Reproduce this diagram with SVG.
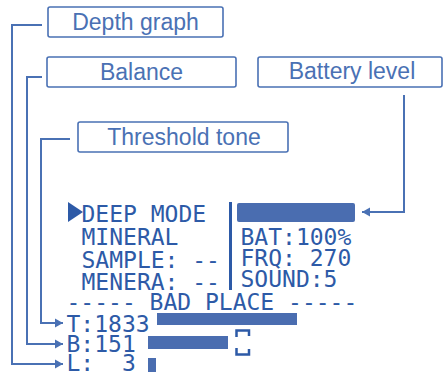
<svg xmlns="http://www.w3.org/2000/svg" width="444" height="374" viewBox="0 0 444 374">
<style>
.box{fill:#fff;stroke:#4a71b4;stroke-width:1.6}
.lbl{font-family:"Liberation Sans",Arial,sans-serif;font-size:23px;fill:#4a71b4;text-anchor:middle}
.lcd{font-family:"DejaVu Sans Mono","Liberation Mono",monospace;font-size:23px;fill:#2d5aa7;white-space:pre}
.bar{fill:#4a6db0}
.con{fill:none;stroke:#4a71b4;stroke-width:2}
</style>
<defs>
<marker id="arr" markerUnits="userSpaceOnUse" markerWidth="9" markerHeight="10" refX="8" refY="5" orient="auto">
<path d="M0,0.5 L8,5 L0,9.5 z" fill="#4a71b4"/>
</marker>
</defs>
<rect width="444" height="374" fill="#fff"/>
<g id="connectors">
<path class="con" d="M42,25 H12 V364 H63" marker-end="url(#arr)"/>
<path class="con" d="M42,77 H27 V344 H63" marker-end="url(#arr)"/>
<path class="con" d="M70,139 H41 V323 H63" marker-end="url(#arr)"/>
<path class="con" d="M404,95 V212 H362" marker-end="url(#arr)"/>
</g>
<g id="depth-graph">
<rect class="box" x="48" y="7" width="175" height="30" rx="2"/>
<text class="lbl" x="135.5" y="30">Depth graph</text>
</g>
<g id="balance">
<rect class="box" x="47" y="57" width="189" height="30" rx="2"/>
<text class="lbl" x="141.5" y="80">Balance</text>
</g>
<g id="threshold-tone">
<rect class="box" x="78" y="122" width="210" height="30" rx="2"/>
<text class="lbl" x="184" y="145">Threshold tone</text>
</g>
<g id="battery-level">
<rect class="box" x="258" y="57" width="184" height="30" rx="2"/>
<text class="lbl" x="352" y="79">Battery level</text>
</g>
<g id="lcd-screen">
<polygon points="68,202 68,222 83,212" fill="#2d5aa7"/>
<text class="lcd" x="81.5" y="222">DEEP MODE</text>
<text class="lcd" x="81.5" y="245">MINERAL</text>
<text class="lcd" x="81.5" y="268">SAMPLE: --</text>
<text class="lcd" x="81.5" y="290">MENERA: --</text>
<rect x="229" y="202" width="3" height="88" fill="#2d5aa7"/>
<rect class="bar" x="237" y="203" width="118" height="19" rx="2"/>
<text class="lcd" x="240.5" y="245">BAT:100%</text>
<text class="lcd" x="240.5" y="266">FRQ: 270</text>
<text class="lcd" x="240.5" y="287">SOUND:5</text>
<text class="lcd" x="66.5" y="310">----- BAD PLACE -----</text>
<text class="lcd" x="66.5" y="332">T:1833</text>
<text class="lcd" x="66.5" y="352">B:151</text>
<text class="lcd" x="66.5" y="371">L:  3</text>
<rect class="bar" x="157" y="313" width="140" height="12"/>
<rect class="bar" x="148" y="336" width="80" height="13"/>
<rect class="bar" x="148" y="358" width="8" height="14"/>
<path d="M236.5,337 V330.5 H249 V336" fill="none" stroke="#2d5aa7" stroke-width="2.5"/>
<path d="M236.5,348 V354.5 H249 V349" fill="none" stroke="#2d5aa7" stroke-width="2.5"/>
</g>
</svg>
